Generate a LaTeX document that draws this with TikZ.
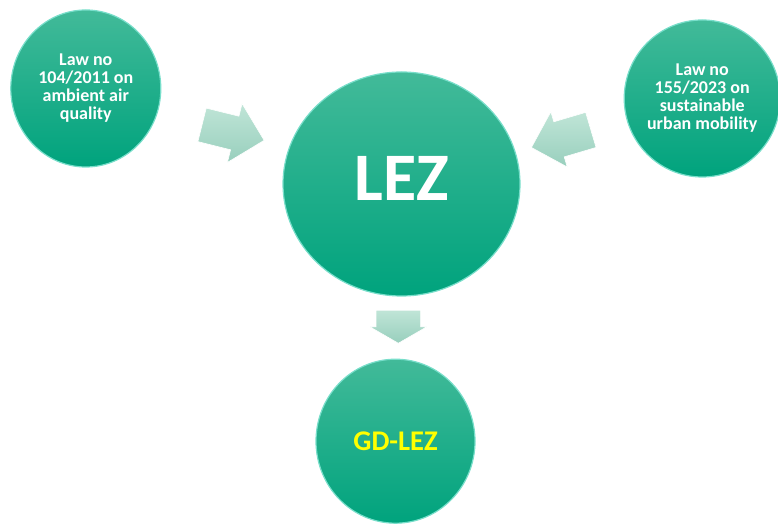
\documentclass[tikz,border=0pt]{standalone}
\usepackage{fontspec}
\setmainfont{Carlito}
\usepackage{xcolor}
\usetikzlibrary{positioning, calc, shapes.geometric, shapes.arrows}

\definecolor{lezgreen}{RGB}{0,163,125}
\definecolor{lezlight}{RGB}{66,186,153}
\definecolor{lezrim}{RGB}{120,222,202}
\definecolor{mintlight}{RGB}{192,229,215}
\definecolor{mintdark}{RGB}{152,207,189}
\definecolor{gdyellow}{RGB}{255,255,0}

\begin{document}
\begin{tikzpicture}[x=1pt, y=1pt, font=\bfseries]

% --- Styles ---
\tikzset{
    lawcirc/.style={ellipse, top color=lezlight, bottom color=lezgreen, draw=lezrim, line width=1.2pt, inner sep=0pt, align=center, text=white, font=\fontsize{18}{18}\selectfont\bfseries},
    blockarrow/.style={single arrow, draw=white, line width=0.6pt, top color=mintlight, bottom color=mintdark, inner xsep=0pt, single arrow tip angle=90},
}

\useasboundingbox (0,0) rectangle (778,524);

% --- Centre: LEZ ---
\node[lawcirc, minimum width=237pt, minimum height=224pt, text depth=12pt, font=\fontsize{68}{68}\selectfont\bfseries] (lez) at (401.5,340) {LEZ};

% --- Top left and top right: the two laws ---
\node[lawcirc, minimum width=150pt, minimum height=157pt, left=121pt of lez, yshift=95.5pt] (law1) {
    Law no\\104/2011 on\\ambient air\\quality
};
\node[lawcirc, minimum width=155pt, minimum height=157pt, right=103pt of lez, yshift=85.5pt] (law2) {
    Law no\\155/2023 on\\sustainable\\urban mobility
};

% --- Bottom: GD-LEZ ---
\node[lawcirc, minimum width=159pt, minimum height=164pt, below=62pt of lez, xshift=-6pt, text=gdyellow, font=\fontsize{28.5}{28.5}\selectfont\bfseries] (gd) {GD-LEZ};

% --- Block arrows ---
\node[blockarrow, minimum height=64pt, inner ysep=17pt, single arrow head extend=13pt, rotate=-14] (arrL) at ($(law1)!0.44!(lez)$) {};
\node[blockarrow, minimum height=62pt, inner ysep=18pt, single arrow head extend=10.5pt, rotate=196.5] (arrR) at ($(law2)!0.44!(lez)$) {};
\node[blockarrow, minimum height=33pt, inner ysep=22pt, single arrow head extend=6pt, single arrow tip angle=120, rotate=-90] (arrD) at ($(lez)!0.53!(gd)$) {};

\end{tikzpicture}
\end{document}
